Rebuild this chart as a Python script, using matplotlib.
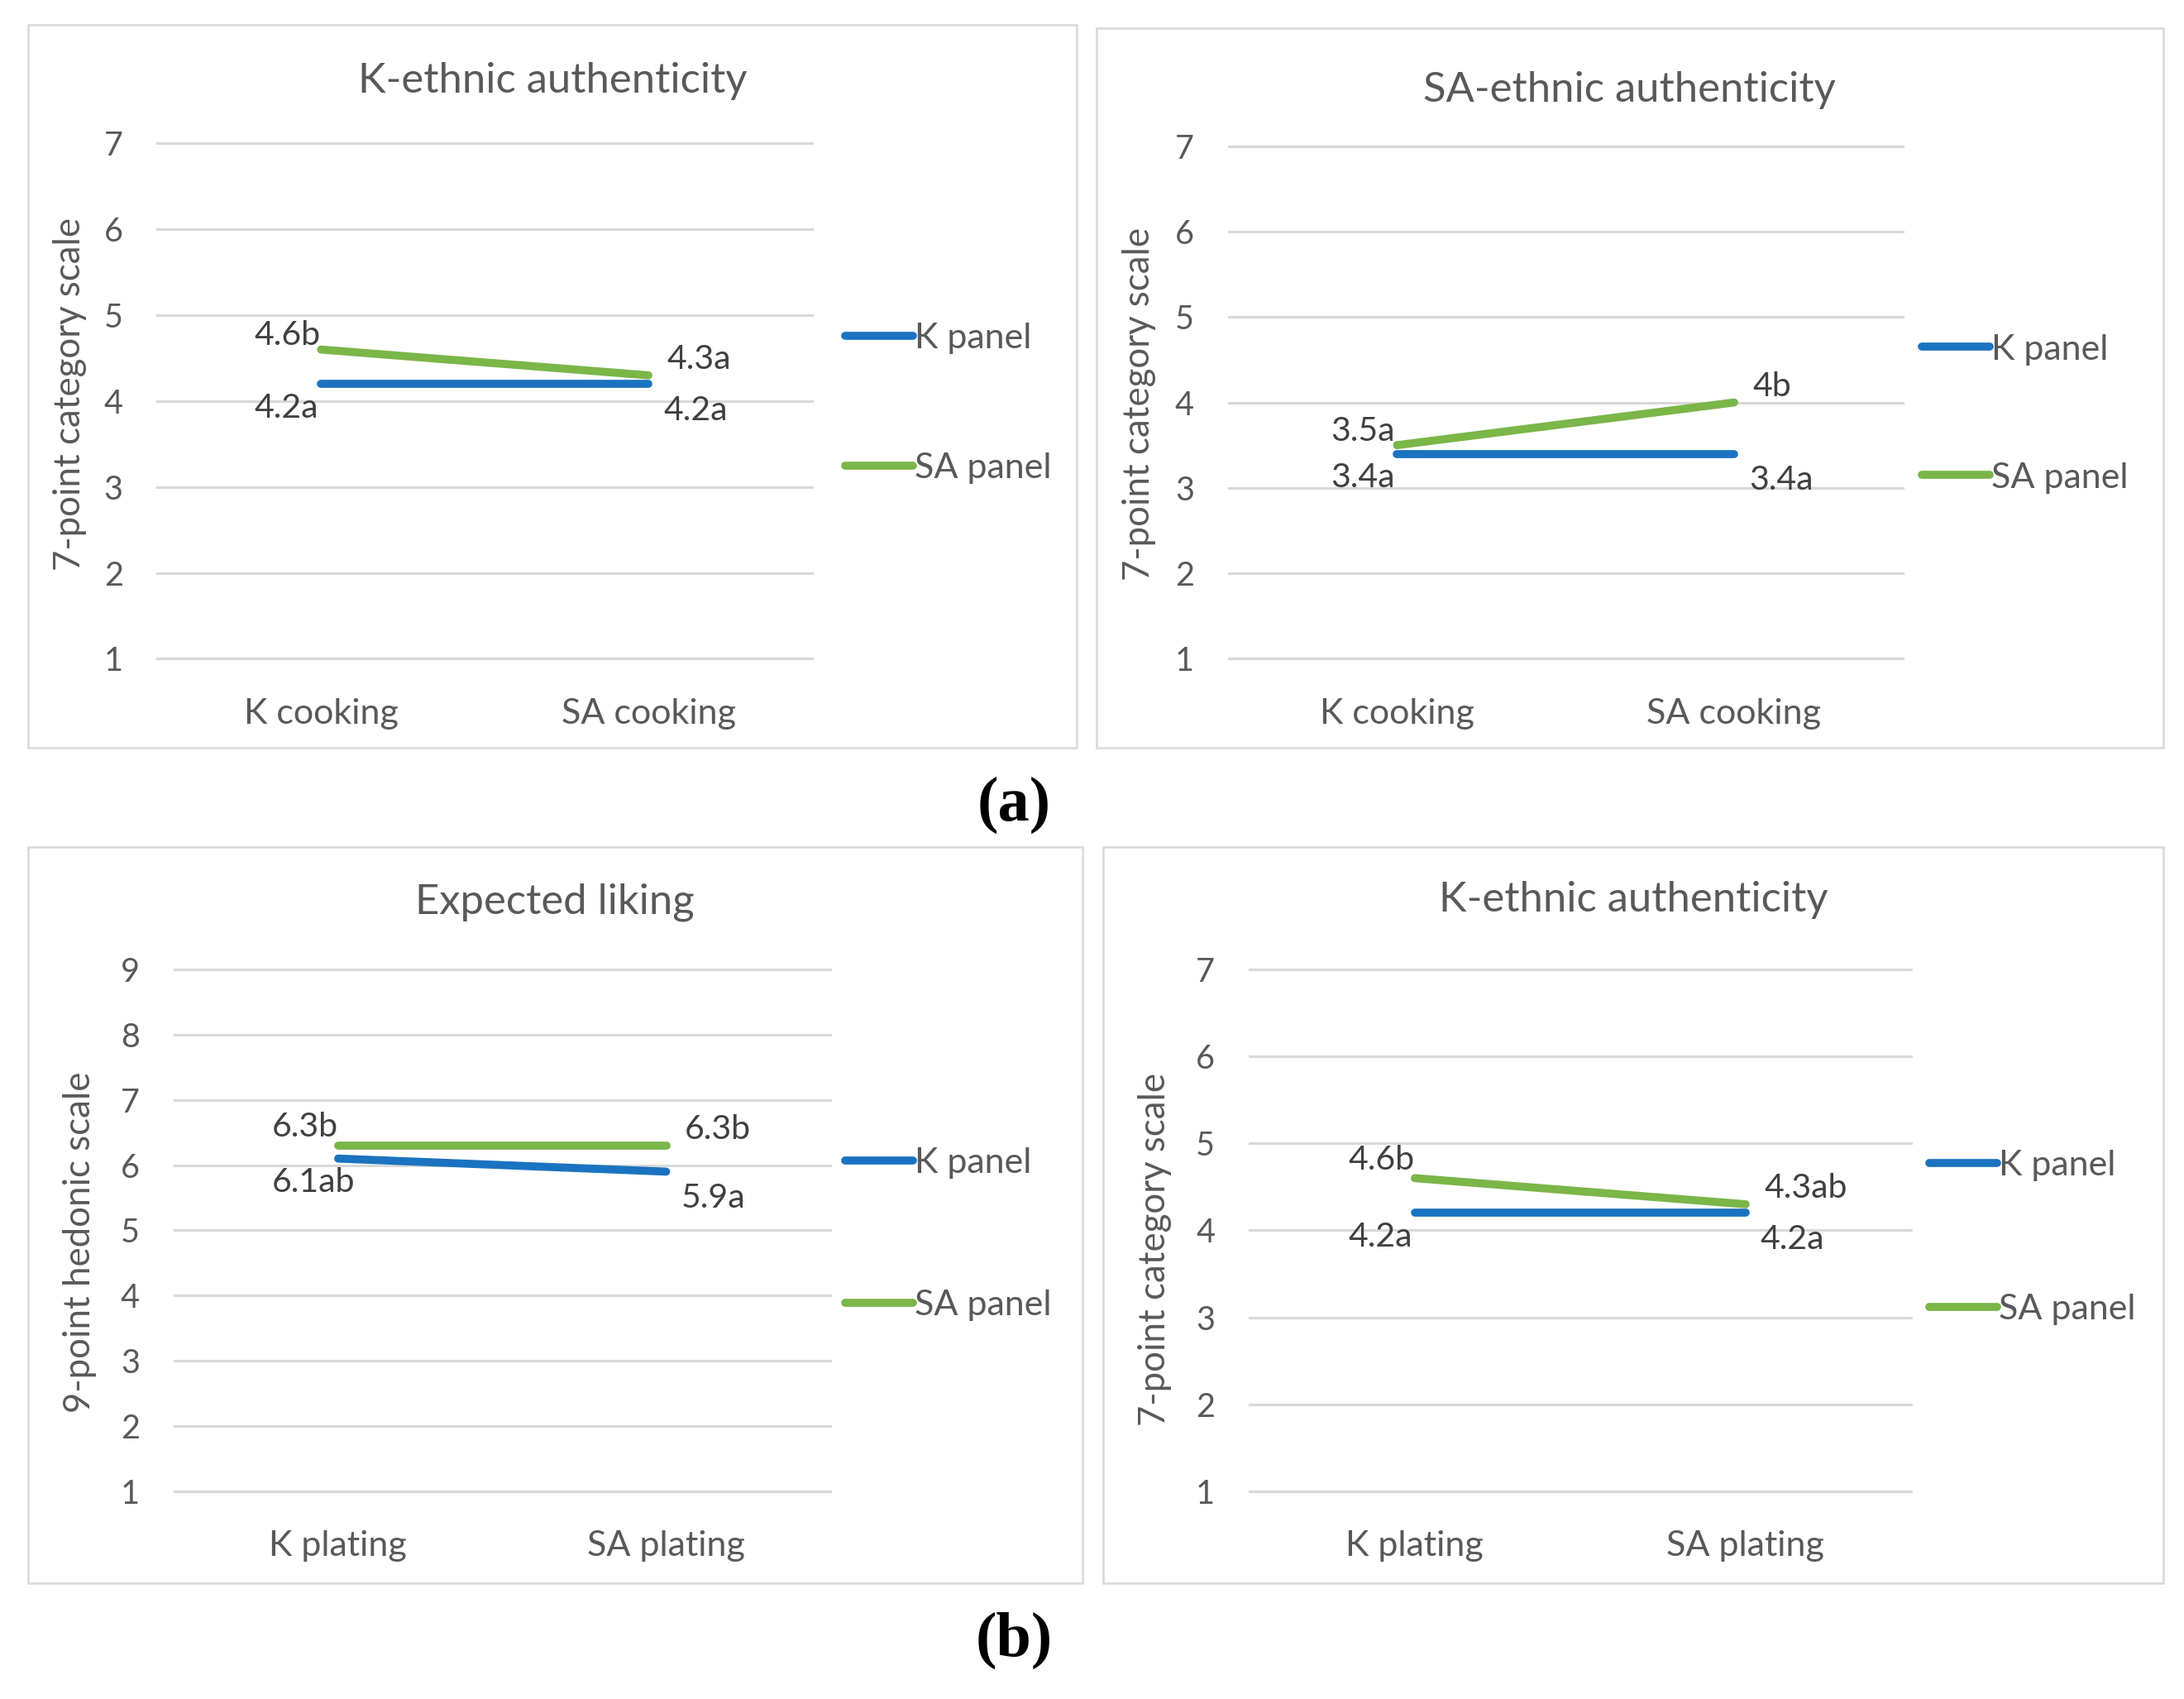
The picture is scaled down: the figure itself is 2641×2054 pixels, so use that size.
import matplotlib
matplotlib.use("Agg")
import matplotlib.pyplot as plt
from matplotlib.patches import Rectangle

plt.rcParams['font.family'] = ['Lato', 'DejaVu Sans']

# chart data, one entry per panel
titles = ["K-ethnic authenticity", "SA-ethnic authenticity", "Expected liking", "K-ethnic authenticity"]
categories = [["K cooking", "SA cooking"], ["K cooking", "SA cooking"],
              ["K plating", "SA plating"], ["K plating", "SA plating"]]
ylabels = ["7-point category scale", "7-point category scale",
           "9-point hedonic scale", "7-point category scale"]
ymax = [7, 7, 9, 7]
series_names = ["K panel", "SA panel"]
k_panel = [[4.2, 4.2], [3.4, 3.4], [6.1, 5.9], [4.2, 4.2]]
sa_panel = [[4.6, 4.3], [3.5, 4.0], [6.3, 6.3], [4.6, 4.3]]
k_labels = [["4.2a", "4.2a"], ["3.4a", "3.4a"], ["6.1ab", "5.9a"], ["4.2a", "4.2a"]]
sa_labels = [["4.6b", "4.3a"], ["3.5a", "4b"], ["6.3b", "6.3b"], ["4.6b", "4.3ab"]]
subfig_tags = ["(a)", "(b)"]

BLUE = "#1a73c1"
GREEN = "#7ab648"
GRID = "#d9d9d9"
TEXT = "#595959"
LABEL = "#404040"

# layout, measured on a 1568 x 1220 view of the original
W0, H0 = 1568.0, 1220.0
boxes = [(20, 18, 773, 537), (787, 20, 1553, 537), (20, 608, 777, 1137), (792, 608, 1553, 1137)]
areas = [(113, 103, 583, 473), (882, 105, 1366, 473), (125, 696, 596, 1071), (897, 696, 1372, 1071)]
title_y = [58, 65, 648, 646]
ylabel_xy = [(50, 283), (818, 290), (57, 892), (829, 897)]
legend_x = [607, 1380, 607, 1385]
legend_y = [(243, 336), (251, 343), (835, 937), (837, 940)]
left_above = [12, 12, 16, 16]   # label offsets in points
tag_xy = [(728, 578), (728, 1178)]

FS_TICK = 28.5
FS_CAT = 31
FS_LAB = 29.5
FS_LEG = 31
FS_TITLE = 36.5
FS_YLAB = 31.5


def fx(x):
    return x / W0


def fy(y):
    return 1 - y / H0


fig = plt.figure(figsize=(26.41, 20.54), dpi=100)

for i in range(4):
    bx0, by0, bx1, by1 = boxes[i]
    fig.patches.append(Rectangle((fx(bx0), fy(by1)), fx(bx1) - fx(bx0), fy(by0) - fy(by1),
                                 transform=fig.transFigure, fill=False,
                                 edgecolor=GRID, linewidth=1.8))
    x0, y0, x1, y1 = areas[i]
    ax = fig.add_axes([fx(x0), fy(y1), fx(x1) - fx(x0), fy(y0) - fy(y1)])
    ax.set_xlim(-0.5, 1.5)
    ax.set_ylim(1, ymax[i])
    ax.set_yticks(range(1, ymax[i] + 1))
    ax.set_xticks([0, 1])
    ax.set_xticklabels(categories[i])
    for s in ax.spines.values():
        s.set_visible(False)
    ax.tick_params(axis='y', length=0, pad=30, labelsize=FS_TICK, labelcolor=TEXT)
    ax.tick_params(axis='x', length=0, pad=34, labelsize=FS_CAT, labelcolor=TEXT)
    ax.yaxis.grid(True, color=GRID, linewidth=2.2)
    for gl in ax.get_ygridlines():
        gl.set_clip_on(False)
    ax.set_axisbelow(True)

    xs = [0, 1]
    ax.plot(xs, k_panel[i], color=BLUE, linewidth=7, solid_capstyle='round',
            label=series_names[0], clip_on=False)
    ax.plot(xs, sa_panel[i], color=GREEN, linewidth=7, solid_capstyle='round',
            label=series_names[1], clip_on=False)

    # data labels
    ax.annotate(sa_labels[i][0], (0, sa_panel[i][0]), xytext=(-58, left_above[i]),
                textcoords='offset points', ha='left', va='center', fontsize=FS_LAB, color=LABEL)
    ax.annotate(k_labels[i][0], (0, k_panel[i][0]), xytext=(-58, -21), textcoords='offset points',
                ha='left', va='center', fontsize=FS_LAB, color=LABEL)
    ax.annotate(sa_labels[i][1], (1, sa_panel[i][1]), xytext=(16, 14), textcoords='offset points',
                ha='left', va='center', fontsize=FS_LAB, color=LABEL)
    ax.annotate(k_labels[i][1], (1, k_panel[i][1]), xytext=(13, -23), textcoords='offset points',
                ha='left', va='center', fontsize=FS_LAB, color=LABEL)

    # legend to the right of the plot area
    ly = (legend_y[i][0] + legend_y[i][1]) / 2
    gap = legend_y[i][1] - legend_y[i][0]
    ax.legend(loc='center left', bbox_to_anchor=((legend_x[i] - x0) / (x1 - x0), (y1 - ly) / (y1 - y0)),
              frameon=False, borderpad=0, borderaxespad=0, fontsize=FS_LEG, labelcolor=TEXT,
              handlelength=1.9, handletextpad=0.05,
              labelspacing=(gap * 1.2125 - 0.88 * FS_LEG) / FS_LEG)

    fig.text(fx((bx0 + bx1) / 2), fy(title_y[i]), titles[i], ha='center', va='center',
             fontsize=FS_TITLE, color=TEXT)
    fig.text(fx(ylabel_xy[i][0]), fy(ylabel_xy[i][1]), ylabels[i], ha='center', va='center',
             rotation=90, fontsize=FS_YLAB, color=TEXT)

for tag, (tx, ty) in zip(subfig_tags, tag_xy):
    fig.text(fx(tx), fy(ty), tag, ha='center', va='center', fontsize=55,
             fontweight='bold', family='Liberation Serif', color='black')

fig.savefig("out.png", dpi=100)
